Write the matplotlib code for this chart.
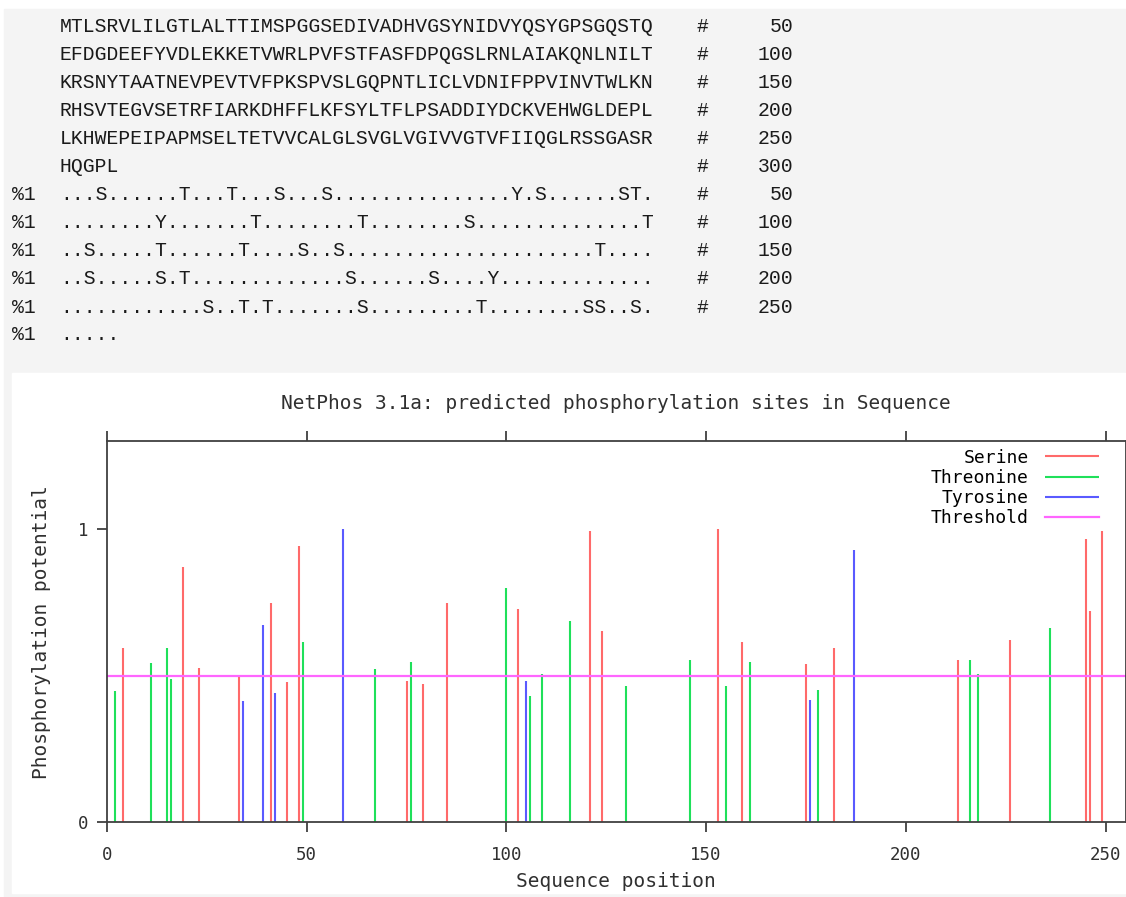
import matplotlib
matplotlib.use("Agg")
import matplotlib.pyplot as plt
from matplotlib.patches import Rectangle

# NetPhos 3.1a output: sequence, site lines and predicted scores

seq_lines = ["MTLSRVLILGTLALTTIMSPGGSEDIVADHVGSYNIDVYQSYGPSGQSTQ",
             "EFDGDEEFYVDLEKKETVWRLPVFSTFASFDPQGSLRNLAIAKQNLNILT",
             "KRSNYTAATNEVPEVTVFPKSPVSLGQPNTLICLVDNIFPPVINVTWLKN",
             "RHSVTEGVSETRFIARKDHFFLKFSYLTFLPSADDIYDCKVEHWGLDEPL",
             "LKHWEPEIPAPMSELTETVVCALGLSVGLVGIVVGTVFIIQGLRSSGASR",
             "HQGPL"]
seq_counts = ["50", "100", "150", "200", "250", "300"]

site_lines = ["..." + "S" + "." * 6 + "T" + "..." + "T" + "..." + "S" + "..." + "S" + "." * 15 + "Y.S" + "." * 6 + "ST.",
              "." * 8 + "Y" + "." * 7 + "T" + "." * 8 + "T" + "." * 8 + "S" + "." * 14 + "T",
              "..S" + "." * 5 + "T" + "." * 6 + "T" + "." * 4 + "S..S" + "." * 21 + "T" + "." * 4,
              "..S" + "." * 5 + "S.T" + "." * 13 + "S" + "." * 6 + "S" + "." * 4 + "Y" + "." * 13,
              "." * 12 + "S..T.T" + "." * 7 + "S" + "." * 9 + "T" + "." * 8 + "SS..S.",
              "....."]
site_counts = ["50", "100", "150", "200", "250", ""]

ser_pos = [4, 19, 23, 33, 41, 45, 48, 75, 79, 85, 103, 121, 124, 153, 159,
           175, 182, 213, 226, 245, 246, 249]
ser_score = [0.595, 0.869, 0.527, 0.498, 0.746, 0.480, 0.943, 0.481, 0.473,
             0.746, 0.726, 0.992, 0.651, 1.000, 0.614, 0.541, 0.595, 0.552,
             0.620, 0.966, 0.720, 0.992]

thr_pos = [2, 11, 15, 16, 49, 67, 76, 100, 106, 109, 116, 130, 146, 155,
           161, 178, 216, 218, 236]
thr_score = [0.447, 0.544, 0.595, 0.489, 0.614, 0.521, 0.546, 0.798, 0.432,
             0.505, 0.686, 0.466, 0.555, 0.464, 0.546, 0.452, 0.552, 0.507,
             0.664]

tyr_pos = [34, 39, 42, 59, 105, 176, 187]
tyr_score = [0.413, 0.673, 0.441, 1.000, 0.483, 0.418, 0.929]

threshold = 0.5
seq_length = 255

W, H = 1126, 897
mono = "DejaVu Sans Mono"
page_font = "Liberation Mono"


def fx(px):
    return px / W


def fy(py):
    return 1 - py / H


fig = plt.figure(figsize=(W / 100, H / 100), dpi=100, facecolor="white")

# page background and white plot panel (behind the axes)
fig.patches.append(Rectangle((fx(4), fy(897)), fx(1126) - fx(4), fy(9) - fy(897),
                             transform=fig.transFigure, color="#f4f4f4", zorder=-2))
fig.patches.append(Rectangle((fx(12), fy(893)), fx(1126) - fx(12), fy(373) - fy(893),
                             transform=fig.transFigure, color="white", zorder=-1))

# text block on top
for i, line in enumerate(seq_lines + site_lines):
    y = fy(27 + 28 * i)
    fig.text(fx(60), y, line, family=page_font, fontsize=14.2, color="#1a1a1a",
             va="center", ha="left")
    if i >= len(seq_lines):
        fig.text(fx(12), y, "%1", family=page_font, fontsize=14.2, color="#1a1a1a",
                 va="center", ha="left")
    count = (seq_counts + site_counts)[i]
    if count:
        fig.text(fx(702), y, "#", family=page_font, fontsize=14.2, color="#1a1a1a",
                 va="center", ha="center")
        fig.text(fx(793), y, count, family=page_font, fontsize=14.2, color="#1a1a1a",
                 va="center", ha="right")

# plot
ax = fig.add_axes([fx(107), fy(822.3), fx(1125.5) - fx(107), fy(441) - fy(822.3)])
ax.set_facecolor("white")

ax.vlines(ser_pos, 0, ser_score, colors="#ff6a6a", lw=1.5, label="Serine")
ax.vlines(thr_pos, 0, thr_score, colors="#1fe05a", lw=1.5, label="Threonine")
ax.vlines(tyr_pos, 0, tyr_score, colors="#5a5aff", lw=1.5, label="Tyrosine")
ax.axhline(threshold, color="#ff66ff", lw=1.6, label="Threshold")

ax.set_xlim(0, seq_length)
ax.set_ylim(0, 1.3)
ax.set_xticks([0, 50, 100, 150, 200, 250])
ax.set_yticks([0, 1])
ax.tick_params(direction="out", length=7, width=1.3, color="#404040",
               labelsize=12.5, labelcolor="#303030", top=True, right=True,
               labeltop=False, labelright=False)
ax.tick_params(axis="x", pad=10)
ax.tick_params(axis="y", pad=6.5)
for lab in ax.get_xticklabels() + ax.get_yticklabels():
    lab.set_family(mono)
for s in ax.spines.values():
    s.set_color("#404040")
    s.set_linewidth(1.3)

ax.set_title("NetPhos 3.1a: predicted phosphorylation sites in Sequence",
             family=mono, fontsize=14, color="#303030", pad=23)
ax.set_xlabel("Sequence position", family=mono, fontsize=14, color="#303030",
              labelpad=6)
ax.set_ylabel("Phosphorylation potential", family=mono, fontsize=14,
              color="#303030", labelpad=19)

leg = ax.legend(loc="upper right", bbox_to_anchor=(0.985, 1.008),
                markerfirst=False, frameon=False,
                prop={"family": mono, "size": 13}, handlelength=3.0,
                labelspacing=0.12, borderaxespad=0.2, handletextpad=0.9)

fig.savefig("out.png", dpi=100, facecolor="white")
